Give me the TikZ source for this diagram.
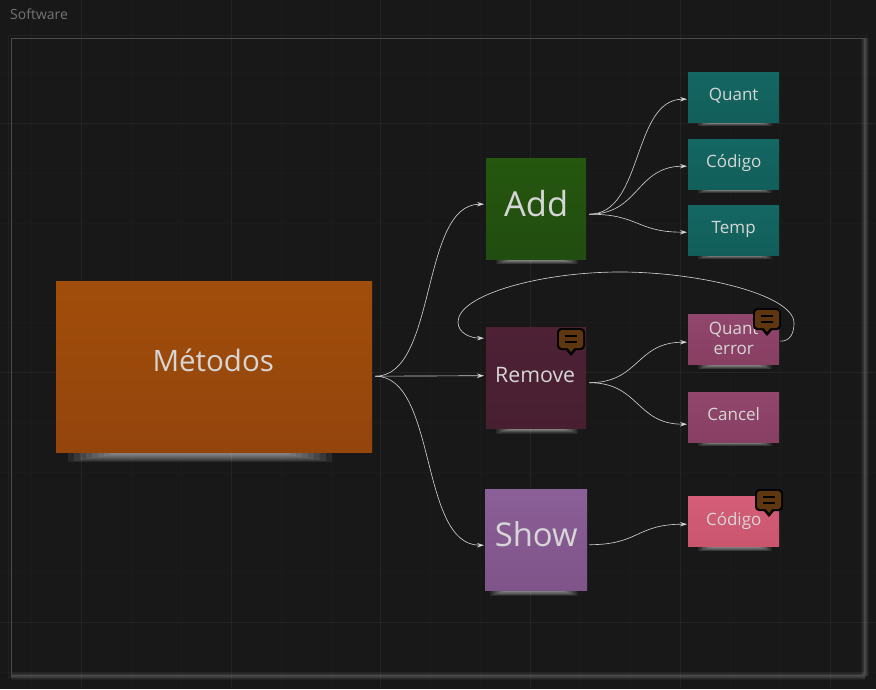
\documentclass[tikz,border=0pt]{standalone}
\usepackage{fontspec}
\setmainfont{Open Sans}
\usetikzlibrary{arrows.meta,calc}
\definecolor{bgc}{HTML}{181818}
\definecolor{gridA}{HTML}{232323}
\definecolor{gridB}{HTML}{1B1B1B}
\definecolor{frameC}{HTML}{4A4A4A}
\definecolor{txtC}{HTML}{D6D6D6}
\definecolor{linkC}{HTML}{CCCCCC}
\definecolor{orangeA}{HTML}{A14D0B}\definecolor{orangeB}{HTML}{94450C}
\definecolor{greenA}{HTML}{25570F}\definecolor{greenB}{HTML}{214D10}
\definecolor{plumA}{HTML}{4E2135}\definecolor{plumB}{HTML}{481F31}
\definecolor{violetA}{HTML}{8B5F97}\definecolor{violetB}{HTML}{7F5489}
\definecolor{tealA}{HTML}{146763}\definecolor{tealB}{HTML}{125E5A}
\definecolor{roseA}{HTML}{92466C}\definecolor{roseB}{HTML}{873F62}
\definecolor{pinkA}{HTML}{D55D78}\definecolor{pinkB}{HTML}{C9566E}
\definecolor{noteC}{HTML}{5E3710}
\tikzset{
  x=1pt,y=-1pt,
  sticky/.style={rectangle,inner sep=0pt,text=txtC,align=center,anchor=north west},
  bigsticky/.style={sticky,minimum width=100pt,minimum height=101pt},
  smallsticky/.style={sticky,minimum width=91pt,minimum height=50pt,font=\fontsize{17}{19.5}\selectfont},
  link/.style={draw=linkC,line width=0.65pt,-{Stealth[length=7pt,width=4.5pt,fill=white]}},
  gridmajor/.style={draw=gridA,line width=0.8pt},
  gridminor/.style={draw=gridB,line width=0.8pt},
  notebubble/.pic={
    \fill[black!85!bgc,rounded corners=4pt] (-14,-12) rectangle (14,10);
    \fill[black!85!bgc] (-6,9) -- (0,16) -- (6,9) -- cycle;
    \fill[noteC,rounded corners=3pt] (-12,-10) rectangle (12,8);
    \fill[noteC] (-4,7) -- (0,12) -- (4,7) -- cycle;
    \draw[black,line width=1.4pt] (-6,-4) -- (6,-4) (-6,2) -- (6,2);
  }
}
% soft shadow: x1, x2, y (centre line hidden behind the node), half height, taper
\newcommand{\softshadow}[5]{%
  \foreach \k in {1,0.9,0.8,0.7,0.6,0.5,0.4,0.3}{
    \draw[white,opacity=0.075,line width=2*\k*#4 pt]
      ({#1+(1-\k)*#5},#3) -- ({#2-(1-\k)*#5},#3);
  }
}
\begin{document}
\begin{tikzpicture}
\useasboundingbox (0,0) rectangle (876,689);
\fill[bgc] (0,0) rectangle (876,689);
% background grid
\foreach \v in {31,131,181,281,331,430,480,580,630,730,780}{\draw[gridminor] (\v,0) -- (\v,689);}
\foreach \h in {73,173,223,322,422,472,572,672}{\draw[gridminor] (0,\h) -- (876,\h);}
\foreach \v in {81,231,380,530,680,830}{\draw[gridmajor] (\v,0) -- (\v,689);}
\foreach \h in {123,372,622}{\draw[gridmajor] (0,\h) -- (876,\h);}
% frame with outer glow, stronger at the bottom and right
\draw[white,opacity=0.035,line width=1.5pt] (8.5,35.5) rectangle (866,677);
\foreach \k in {2,4,6,8}{
  \draw[white,opacity=0.045,line width=\k pt] (865,38) -- (865,676);
  \draw[white,opacity=0.045,line width=\k pt] (11,676) -- (865,676);
}
\draw[frameC,line width=1pt] (11,38) rectangle (864,675);
\node[text=white!40!bgc,font=\fontsize{14}{16}\selectfont,anchor=west,inner sep=0pt] (title) at (10,14) {Software};
% shadows
\softshadow{68}{332}{452}{10}{60}
\softshadow{496}{578}{259}{5}{20}
\softshadow{496}{578}{428}{5.5}{20}
\softshadow{490}{578}{590}{6}{20}
\softshadow{698}{772}{122}{4}{18}
\softshadow{698}{772}{189}{4}{18}
\softshadow{698}{772}{255}{4}{18}
\softshadow{698}{772}{364}{5}{18}
\softshadow{698}{772}{442}{4}{18}
\softshadow{698}{772}{546}{5}{18}
% nodes
\node[sticky,top color=orangeA,bottom color=orangeB,minimum width=316pt,minimum height=171pt,
      font=\fontsize{29.5}{33}\selectfont] (metodos) at (56,281) {\raisebox{13pt}{Métodos\hspace{2pt}}};
\node[bigsticky,top color=greenA,bottom color=greenB,font=\fontsize{34.5}{39}\selectfont] (add) at (486,158) {\raisebox{10pt}{Add}};
\node[bigsticky,top color=plumA,bottom color=plumB,font=\fontsize{21.3}{25}\selectfont] (remove) at (486,327) {\raisebox{6pt}{Remove\hspace{2pt}}};
\node[bigsticky,minimum width=102pt,top color=violetA,bottom color=violetB,font=\fontsize{32.8}{37}\selectfont] (show) at (485,489) {\raisebox{11pt}{Show}};
\node[smallsticky,top color=tealA,bottom color=tealB] (quant) at (688,72) {\raisebox{5pt}{Quant}};
\node[smallsticky,top color=tealA,bottom color=tealB] (codigoA) at (688,139) {\raisebox{6pt}{Código}};
\node[smallsticky,top color=tealA,bottom color=tealB] (temp) at (688,205) {\raisebox{5pt}{Temp}};
\node[smallsticky,top color=roseA,bottom color=roseB] (qerror) at (688,314) {\raisebox{2pt}{Quant}\\\raisebox{2pt}{error}};
\node[smallsticky,top color=roseA,bottom color=roseB] (cancel) at (688,392) {\raisebox{6pt}{Cancel}};
\node[smallsticky,top color=pinkA,bottom color=pinkB] (codigoB) at (688,496) {\raisebox{4pt}{Código}};
% connectors
\coordinate (mout) at ([shift={(3,9.5)}]metodos.east);
\coordinate (addout) at ([shift={(3,5.5)}]add.east);
\coordinate (remout) at ([shift={(3,5)}]remove.east);
\coordinate (showout) at ([shift={(2,5)}]show.east);
\draw[link] (mout) .. controls +(62,0) and ($(add.west)+(-66,-4.5)$) .. ($(add.west)+(-2,-4.5)$);
\draw[link] (mout) -- ($(remove.west)+(-2,-2)$);
\draw[link] (mout) .. controls +(62,0) and ($(show.west)+(-66,5.5)$) .. ($(show.west)+(-1,5.5)$);
\draw[link] (addout) .. controls +(54,0) and ($(quant.west)+(-56,2)$) .. ($(quant.west)+(-1,2)$);
\draw[link] (addout) .. controls +(50,0) and ($(codigoA.west)+(-52,2)$) .. ($(codigoA.west)+(-1,2)$);
\draw[link] (addout) .. controls +(50,0) and ($(temp.west)+(-52,2)$) .. ($(temp.west)+(-1,2)$);
\draw[link] (remout) .. controls +(50,0) and ($(qerror.west)+(-52,3)$) .. ($(qerror.west)+(-1,3)$);
\draw[link] (remout) .. controls +(50,0) and ($(cancel.west)+(-52,7)$) .. ($(cancel.west)+(-1,7)$);
\draw[link] (showout) .. controls +(50,0) and ($(codigoB.west)+(-52,3)$) .. ($(codigoB.west)+(-1,3)$);
\draw[link] ([shift={(1,2)}]qerror.east)
  .. controls +(10,0) and (794,333) .. (794,323)
  .. controls (794,295) and (700,272) .. (620,272)
  .. controls (540,272) and (458,295) .. (458,322)
  .. controls (458,333) and (470,338) .. ($(remove.west)+(-2,-39.5)$);
% note bubbles
\pic at (571,340) {notebubble};
\pic at (767,320) {notebubble};
\pic at (769,501) {notebubble};
\end{tikzpicture}
\end{document}
